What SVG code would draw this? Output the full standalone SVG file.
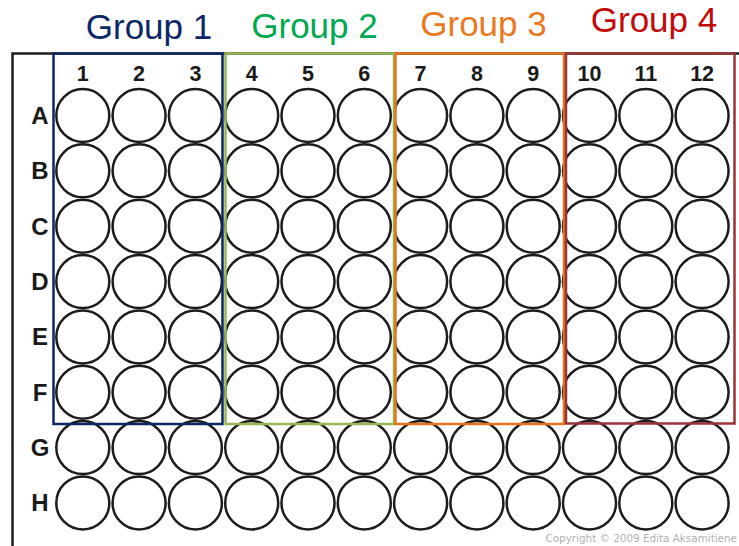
<svg xmlns="http://www.w3.org/2000/svg" width="739" height="546" viewBox="0 0 739 546">
<style>
.w{fill:none;stroke:#1c1c1c;stroke-width:2.5}
.lab{font-family:"Liberation Sans",Arial,sans-serif;font-weight:bold;fill:#1a1a1a;text-anchor:middle}
.col{font-size:21.5px}
.row{font-size:24px}
.grp{font-family:"Liberation Sans",Arial,sans-serif;font-size:35px;text-anchor:middle}
.box{fill:none;stroke-width:2.5}
</style>
<rect width="739" height="546" fill="#ffffff"/>
<g id="plate">
<path d="M12.5,546 V53.5 H739" fill="none" stroke="#1c1c1c" stroke-width="2.5"/>
</g>
<g id="wells">
<g id="rowA"><circle class="w" cx="82.8" cy="115.5" r="26.5"/><circle class="w" cx="139.1" cy="115.5" r="26.5"/><circle class="w" cx="195.4" cy="115.5" r="26.5"/><circle class="w" cx="251.7" cy="115.5" r="26.5"/><circle class="w" cx="308" cy="115.5" r="26.5"/><circle class="w" cx="364.3" cy="115.5" r="26.5"/><circle class="w" cx="420.6" cy="115.5" r="26.5"/><circle class="w" cx="476.9" cy="115.5" r="26.5"/><circle class="w" cx="533.2" cy="115.5" r="26.5"/><circle class="w" cx="589.5" cy="115.5" r="26.5"/><circle class="w" cx="645.8" cy="115.5" r="26.5"/><circle class="w" cx="702.1" cy="115.5" r="26.5"/></g>
<g id="rowB"><circle class="w" cx="82.8" cy="170.85" r="26.5"/><circle class="w" cx="139.1" cy="170.85" r="26.5"/><circle class="w" cx="195.4" cy="170.85" r="26.5"/><circle class="w" cx="251.7" cy="170.85" r="26.5"/><circle class="w" cx="308" cy="170.85" r="26.5"/><circle class="w" cx="364.3" cy="170.85" r="26.5"/><circle class="w" cx="420.6" cy="170.85" r="26.5"/><circle class="w" cx="476.9" cy="170.85" r="26.5"/><circle class="w" cx="533.2" cy="170.85" r="26.5"/><circle class="w" cx="589.5" cy="170.85" r="26.5"/><circle class="w" cx="645.8" cy="170.85" r="26.5"/><circle class="w" cx="702.1" cy="170.85" r="26.5"/></g>
<g id="rowC"><circle class="w" cx="82.8" cy="226.2" r="26.5"/><circle class="w" cx="139.1" cy="226.2" r="26.5"/><circle class="w" cx="195.4" cy="226.2" r="26.5"/><circle class="w" cx="251.7" cy="226.2" r="26.5"/><circle class="w" cx="308" cy="226.2" r="26.5"/><circle class="w" cx="364.3" cy="226.2" r="26.5"/><circle class="w" cx="420.6" cy="226.2" r="26.5"/><circle class="w" cx="476.9" cy="226.2" r="26.5"/><circle class="w" cx="533.2" cy="226.2" r="26.5"/><circle class="w" cx="589.5" cy="226.2" r="26.5"/><circle class="w" cx="645.8" cy="226.2" r="26.5"/><circle class="w" cx="702.1" cy="226.2" r="26.5"/></g>
<g id="rowD"><circle class="w" cx="82.8" cy="281.55" r="26.5"/><circle class="w" cx="139.1" cy="281.55" r="26.5"/><circle class="w" cx="195.4" cy="281.55" r="26.5"/><circle class="w" cx="251.7" cy="281.55" r="26.5"/><circle class="w" cx="308" cy="281.55" r="26.5"/><circle class="w" cx="364.3" cy="281.55" r="26.5"/><circle class="w" cx="420.6" cy="281.55" r="26.5"/><circle class="w" cx="476.9" cy="281.55" r="26.5"/><circle class="w" cx="533.2" cy="281.55" r="26.5"/><circle class="w" cx="589.5" cy="281.55" r="26.5"/><circle class="w" cx="645.8" cy="281.55" r="26.5"/><circle class="w" cx="702.1" cy="281.55" r="26.5"/></g>
<g id="rowE"><circle class="w" cx="82.8" cy="336.9" r="26.5"/><circle class="w" cx="139.1" cy="336.9" r="26.5"/><circle class="w" cx="195.4" cy="336.9" r="26.5"/><circle class="w" cx="251.7" cy="336.9" r="26.5"/><circle class="w" cx="308" cy="336.9" r="26.5"/><circle class="w" cx="364.3" cy="336.9" r="26.5"/><circle class="w" cx="420.6" cy="336.9" r="26.5"/><circle class="w" cx="476.9" cy="336.9" r="26.5"/><circle class="w" cx="533.2" cy="336.9" r="26.5"/><circle class="w" cx="589.5" cy="336.9" r="26.5"/><circle class="w" cx="645.8" cy="336.9" r="26.5"/><circle class="w" cx="702.1" cy="336.9" r="26.5"/></g>
<g id="rowF"><circle class="w" cx="82.8" cy="392.25" r="26.5"/><circle class="w" cx="139.1" cy="392.25" r="26.5"/><circle class="w" cx="195.4" cy="392.25" r="26.5"/><circle class="w" cx="251.7" cy="392.25" r="26.5"/><circle class="w" cx="308" cy="392.25" r="26.5"/><circle class="w" cx="364.3" cy="392.25" r="26.5"/><circle class="w" cx="420.6" cy="392.25" r="26.5"/><circle class="w" cx="476.9" cy="392.25" r="26.5"/><circle class="w" cx="533.2" cy="392.25" r="26.5"/><circle class="w" cx="589.5" cy="392.25" r="26.5"/><circle class="w" cx="645.8" cy="392.25" r="26.5"/><circle class="w" cx="702.1" cy="392.25" r="26.5"/></g>
<g id="rowG"><circle class="w" cx="82.8" cy="447.6" r="26.5"/><circle class="w" cx="139.1" cy="447.6" r="26.5"/><circle class="w" cx="195.4" cy="447.6" r="26.5"/><circle class="w" cx="251.7" cy="447.6" r="26.5"/><circle class="w" cx="308" cy="447.6" r="26.5"/><circle class="w" cx="364.3" cy="447.6" r="26.5"/><circle class="w" cx="420.6" cy="447.6" r="26.5"/><circle class="w" cx="476.9" cy="447.6" r="26.5"/><circle class="w" cx="533.2" cy="447.6" r="26.5"/><circle class="w" cx="589.5" cy="447.6" r="26.5"/><circle class="w" cx="645.8" cy="447.6" r="26.5"/><circle class="w" cx="702.1" cy="447.6" r="26.5"/></g>
<g id="rowH"><circle class="w" cx="82.8" cy="502.95" r="26.5"/><circle class="w" cx="139.1" cy="502.95" r="26.5"/><circle class="w" cx="195.4" cy="502.95" r="26.5"/><circle class="w" cx="251.7" cy="502.95" r="26.5"/><circle class="w" cx="308" cy="502.95" r="26.5"/><circle class="w" cx="364.3" cy="502.95" r="26.5"/><circle class="w" cx="420.6" cy="502.95" r="26.5"/><circle class="w" cx="476.9" cy="502.95" r="26.5"/><circle class="w" cx="533.2" cy="502.95" r="26.5"/><circle class="w" cx="589.5" cy="502.95" r="26.5"/><circle class="w" cx="645.8" cy="502.95" r="26.5"/><circle class="w" cx="702.1" cy="502.95" r="26.5"/></g>
</g>
<g id="column-labels" class="lab col">
<text x="82.8" y="81">1</text><text x="139.1" y="81">2</text><text x="195.4" y="81">3</text><text x="251.7" y="81">4</text><text x="308" y="81">5</text><text x="364.3" y="81">6</text><text x="420.6" y="81">7</text><text x="476.9" y="81">8</text><text x="533.2" y="81">9</text><text x="589.5" y="81">10</text><text x="645.8" y="81">11</text><text x="702.1" y="81">12</text>
</g>
<g id="row-labels" class="lab row">
<text x="40" y="124">A</text><text x="40" y="179.4">B</text><text x="40" y="234.7">C</text><text x="40" y="290">D</text><text x="40" y="345.4">E</text><text x="40" y="400.7">F</text><text x="40" y="456">G</text><text x="40" y="511.4">H</text>
</g>
<g id="group1">
<rect class="box" x="53.5" y="53.5" width="169" height="370.5" stroke="#0b2767"/>
<text class="grp" x="149" y="39" fill="#0b2767">Group 1</text>
</g>
<g id="group2">
<rect class="box" x="225.5" y="53.5" width="168.5" height="370.5" stroke="#95b756"/>
<text class="grp" x="314.5" y="38" fill="#00a84f">Group 2</text>
</g>
<g id="group3">
<rect class="box" x="395.5" y="53.5" width="168.5" height="370.5" stroke="#e8731a"/>
<text class="grp" x="483.5" y="36" fill="#ea7a22">Group 3</text>
</g>
<g id="group4">
<rect class="box" x="566" y="53.5" width="168.5" height="370" stroke="#9a3434"/>
<text class="grp" x="654" y="32" fill="#c30a0a">Group 4</text>
</g>
<text id="copyright" x="737" y="542" font-family="'DejaVu Sans',Verdana,sans-serif" font-size="10.4" fill="#b0b0b0" text-anchor="end">Copyright © 2009 Edita Aksamitiene</text>
</svg>
